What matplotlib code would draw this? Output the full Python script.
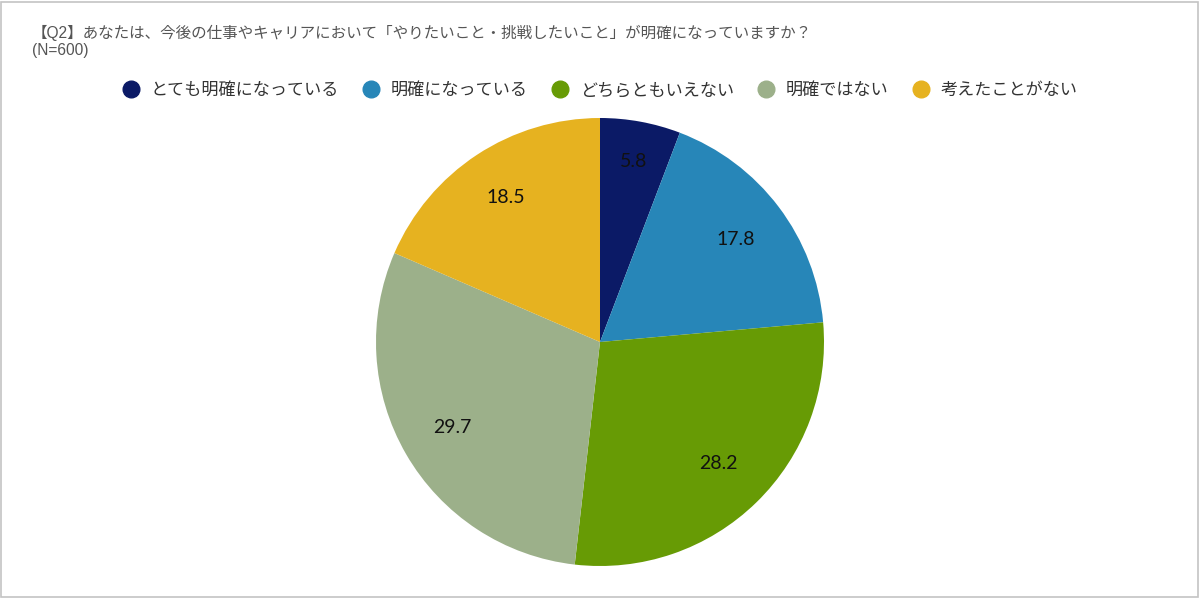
import numpy as np
import matplotlib
matplotlib.use('Agg')
import matplotlib.pyplot as plt
from matplotlib.lines import Line2D
from matplotlib.patches import Rectangle

plt.rcParams['font.family'] = ['Liberation Sans', 'Noto Sans CJK JP', 'DejaVu Sans']

title = '【Q2】あなたは、今後の仕事やキャリアにおいて「やりたいこと・挑戦したいこと」が明確になっていますか？'
subtitle = '(N=600)'
categories = ['とても明確になっている', '明確になっている', 'どちらともいえない', '明確ではない', '考えたことがない']
values = [5.8, 17.8, 28.2, 29.7, 18.5]
colors = ['#0b1a66', '#2786b8', '#679b05', '#9cb08a', '#e6b220']

fig = plt.figure(figsize=(12, 5.98), dpi=100)
fig.patch.set_facecolor('white')

# light frame around the whole chart
fig.add_artist(Rectangle((0.001, 0.002), 0.997, 0.995, transform=fig.transFigure,
                         fill=False, edgecolor='#c4c4c4', linewidth=1.2))

fig.text(32 / 1200, 1 - 33 / 598, title, fontsize=11.2, color='#555555', va='center', ha='left')
fig.text(32 / 1200, 1 - 50 / 598, subtitle, fontsize=11.2, color='#555555', va='center', ha='left')

handles = [Line2D([0], [0], marker='o', linestyle='none', markersize=12,
                  markerfacecolor=c, markeredgecolor=c) for c in colors]
fig.legend(handles, categories, loc='center', bbox_to_anchor=(0.5, 1 - 90 / 598), ncol=5,
           frameon=False, handlelength=1.0, handletextpad=0.65, columnspacing=1.4,
           labelcolor='#333333', prop={'family': ['Noto Sans CJK JP'], 'size': 12.3})

ax = fig.add_axes([376 / 1200, 32 / 598, 448 / 1200, 448 / 598])
wedges, _ = ax.pie(values, colors=colors, startangle=90, counterclock=False, radius=1.0,
                   wedgeprops=dict(linewidth=0))
ax.set_xlim(-1, 1)
ax.set_ylim(-1, 1)
ax.set_aspect('equal')
ax.axis('off')

label_r = [0.82, 0.76, 0.76, 0.76, 0.77]
for w, v, r in zip(wedges, values, label_r):
    mid = np.deg2rad((w.theta1 + w.theta2) / 2)
    ax.text(r * np.cos(mid), r * np.sin(mid), f'{v:.1f}', ha='center', va='center',
            fontsize=14, color='#111111', family='Lato')

fig.savefig('out.png', dpi=100, facecolor='white')
